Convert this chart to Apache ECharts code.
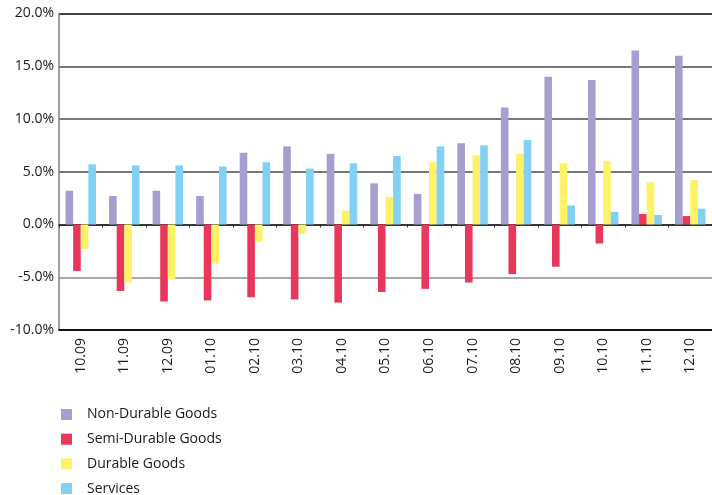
<!DOCTYPE html>
<html>
<head>
<meta charset="utf-8">
<style>
  html, body { margin: 0; padding: 0; background: #fff; }
  #chart { width: 712px; height: 495px; }
</style>
<script src="https://cdn.jsdelivr.net/npm/echarts@6/dist/echarts.min.js"></script>
</head>
<body>
<div id="chart"></div>
<script>
// Month labels (MM.YY)
const months = ['10.09', '11.09', '12.09', '01.10', '02.10', '03.10', '04.10', '05.10',
                '06.10', '07.10', '08.10', '09.10', '10.10', '11.10', '12.10'];

// Year-on-year change, %
const nonDurable  = [3.2, 2.7, 3.2, 2.7, 6.8, 7.4, 6.7, 3.9, 2.9, 7.7, 11.1, 14.0, 13.7, 16.5, 16.0];
const semiDurable = [-4.4, -6.3, -7.3, -7.2, -6.9, -7.1, -7.4, -6.4, -6.1, -5.5, -4.7, -4.0, -1.8, 1.0, 0.8];
const durable     = [-2.3, -5.5, -5.2, -3.7, -1.6, -0.9, 1.3, 2.6, 5.9, 6.6, 6.7, 5.8, 6.0, 4.0, 4.2];
const services    = [5.7, 5.6, 5.6, 5.5, 5.9, 5.3, 5.8, 6.5, 7.4, 7.5, 8.0, 1.8, 1.2, 0.9, 1.5];

const yTicks = { min: -10, max: 20, step: 5 };

const font = '"Open Sans", "Liberation Sans", sans-serif';
const textColor = '#1a1a1a';

const chart = echarts.init(document.getElementById('chart'), null, { renderer: 'canvas' });

function bars(name, data, color) {
  return {
    name: name,
    type: 'bar',
    data: data,
    xAxisIndex: 0,
    barGap: '0%',
    barCategoryGap: '30%',
    itemStyle: { color: color },
    emphasis: { disabled: true }
  };
}

chart.setOption({
  animation: false,
  backgroundColor: '#ffffff',
  textStyle: { fontFamily: font },
  grid: { left: 59, right: -6, top: 13.5, bottom: 165, containLabel: false },
  legend: {
    orient: 'vertical',
    left: 61,
    top: 407.5,
    height: 110,
    padding: 0,
    itemWidth: 11,
    itemHeight: 11,
    itemGap: 10.7,
    icon: 'rect',
    selectedMode: false,
    textStyle: { fontSize: 14, color: textColor, fontFamily: font, padding: [0, 0, 0, 10] },
    data: ['Non-Durable Goods', 'Semi-Durable Goods', 'Durable Goods', 'Services']
  },
  xAxis: [
    {
      type: 'category',
      data: months,
      position: 'bottom',
      axisLine: { onZero: false, lineStyle: { color: '#000', width: 1.5 } },
      axisTick: { show: false },
      axisLabel: {
        rotate: 90,
        margin: 8,
        fontSize: 14,
        color: textColor,
        fontFamily: font,
        interval: 0
      },
      splitLine: { show: false }
    },
    {
      type: 'category',
      data: months,
      position: 'bottom',
      axisLine: { onZero: true, lineStyle: { color: '#2a2a2a', width: 1.5 } },
      axisTick: { show: true, length: 3, lineStyle: { color: '#2a2a2a' } },
      axisLabel: { show: false },
      splitLine: { show: false }
    }
  ],
  yAxis: {
    type: 'value',
    min: yTicks.min,
    max: yTicks.max,
    interval: yTicks.step,
    axisLine: { show: true, lineStyle: { color: '#808080', width: 1.5 } },
    axisTick: { show: false },
    axisLabel: {
      margin: 5,
      fontSize: 14,
      color: textColor,
      fontFamily: font,
      formatter: v => v.toFixed(1) + '%'
    },
    splitLine: {
      show: true,
      lineStyle: {
        color: ['#000000', '#8a8a8a', '#2a2a2a', '#4a4a4a', '#4a4a4a', '#4a4a4a', '#000000'],
        width: 1.5
      }
    }
  },
  series: [
    bars('Non-Durable Goods', nonDurable, '#a69ece'),
    bars('Semi-Durable Goods', semiDurable, '#e9375b'),
    bars('Durable Goods', durable, '#fff266'),
    bars('Services', services, '#81d1f4')
  ]
});
</script>
</body>
</html>
